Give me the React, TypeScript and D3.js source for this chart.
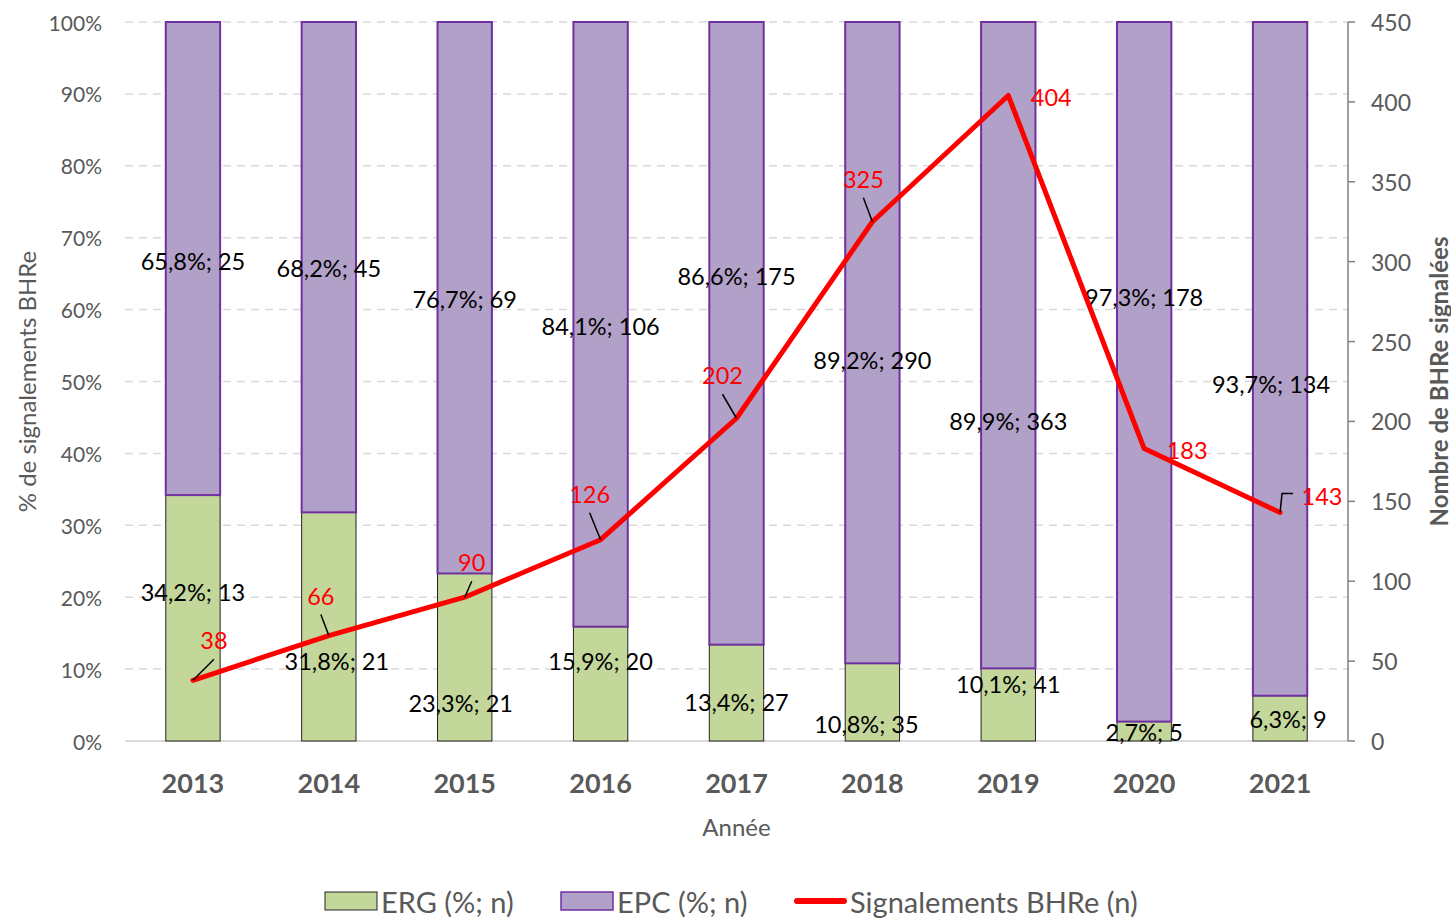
import React from 'react';
import * as d3 from 'd3';

const years = ['2013', '2014', '2015', '2016', '2017', '2018', '2019', '2020', '2021'];
const ergPct = [34.2, 31.8, 23.3, 15.9, 13.4, 10.8, 10.1, 2.7, 6.3];
const ergN = [13, 21, 21, 20, 27, 35, 41, 5, 9];
const epcPct = [65.8, 68.2, 76.7, 84.1, 86.6, 89.2, 89.9, 97.3, 93.7];
const epcN = [25, 45, 69, 106, 175, 290, 363, 178, 134];
const totalN = [38, 66, 90, 126, 202, 325, 404, 183, 143];
const pctTicks = [0, 10, 20, 30, 40, 50, 60, 70, 80, 90, 100];
const countTicks = [0, 50, 100, 150, 200, 250, 300, 350, 400, 450];

// label nudges (px) as placed in the original
const epcLabelShift = [[0, 2], [0, 1], [0, 1], [0, 2], [0, -57], [0, 17], [0, 76], [0, -75], [-9, 25]];
const ergLabelShift = [[0, -26], [8, 34], [-4, 46], [0, -23], [0, 9], [-6, 22], [0, -21], [0, 1], [8, 1]];
const lineLabelShift = [[21, -40], [-8, -40], [7, -35], [-11, -46], [-14, -43], [-9, -43], [43, 2], [43, 1], [42, -17]];
const lineLeader = ['diag', 'diag', 'diag', 'diag', 'diag', 'diag', 'none', 'none', 'elbow'];

const W = 1451;
const H = 922;
const m = { left: 125, right: 1348, top: 22, bottom: 741 };
const FONT = 'Lato, "Open Sans", sans-serif';
const GREY = '#595959';

const fmt = (v: number) => v.toFixed(1).replace('.', ',');

export default function App() {
  const x = d3.scaleBand<string>().domain(years).range([m.left, m.right]).paddingInner(0.6).paddingOuter(0.3);
  const yPct = d3.scaleLinear().domain([0, 100]).range([m.bottom, m.top]);
  const yN = d3.scaleLinear().domain([0, 450]).range([m.bottom, m.top]);
  const bw = x.bandwidth();
  const cx = (y: string) => (x(y) as number) + bw / 2;

  const line = d3.line<number>()
    .x((_, i) => cx(years[i]))
    .y((d) => yN(d));

  return (
    <svg width={W} height={H} style={{ position: 'absolute', left: 0, top: 0, background: '#fff' }} fontFamily={FONT}>
      {/* gridlines */}
      {pctTicks.filter((t) => t > 0).map((t) => (
        <line key={t} x1={m.left} x2={m.right} y1={yPct(t)} y2={yPct(t)} stroke="#d9d9d9" strokeWidth={1.5} strokeDasharray="8,6" />
      ))}
      <line x1={m.left} x2={m.right} y1={m.bottom} y2={m.bottom} stroke="#d9d9d9" strokeWidth={2} />

      {/* left ticks */}
      {pctTicks.map((t) => (
        <text key={t} x={102} y={yPct(t)} textAnchor="end" dominantBaseline="central" fontSize={21} fill={GREY}>{t}%</text>
      ))}

      {/* right axis */}
      <line x1={m.right} x2={m.right} y1={m.top} y2={m.bottom} stroke="#808080" strokeWidth={1.5} />
      {countTicks.map((t) => (
        <g key={t}>
          <line x1={m.right} x2={m.right + 7} y1={yN(t)} y2={yN(t)} stroke="#808080" strokeWidth={1.5} />
          <text x={1371} y={yN(t)} dominantBaseline="central" fontSize={23} fill={GREY}>{t}</text>
        </g>
      ))}

      {/* bars */}
      {years.map((yr, i) => (
        <g key={yr}>
          <rect x={x(yr)} y={yPct(ergPct[i])} width={bw} height={m.bottom - yPct(ergPct[i])} fill="#c4d79b" stroke="#222" strokeWidth={1} />
          <rect x={x(yr)} y={yPct(100)} width={bw} height={yPct(ergPct[i]) - yPct(100)} fill="#b1a0c7" stroke="#7030a0" strokeWidth={2} />
        </g>
      ))}

      {/* bar labels */}
      {years.map((yr, i) => {
        const ergMid = yPct(ergPct[i] / 2);
        const epcMid = yPct(ergPct[i] + epcPct[i] / 2);
        return (
          <g key={yr} fontSize={23.5} fill="#000" textAnchor="middle" dominantBaseline="central">
            <text x={cx(yr) + epcLabelShift[i][0]} y={epcMid + epcLabelShift[i][1]}>{fmt(epcPct[i])}%; {epcN[i]}</text>
            <text x={cx(yr) + ergLabelShift[i][0]} y={ergMid + ergLabelShift[i][1]}>{fmt(ergPct[i])}%; {ergN[i]}</text>
          </g>
        );
      })}

      {/* line */}
      <path d={line(totalN) || ''} fill="none" stroke="#ff0000" strokeWidth={5} strokeLinejoin="round" strokeLinecap="round" />

      {/* line labels + leaders */}
      {years.map((yr, i) => {
        const px = cx(yr);
        const py = yN(totalN[i]);
        const lx = px + lineLabelShift[i][0];
        const ly = py + lineLabelShift[i][1];
        let leader = null;
        if (lineLeader[i] === 'diag') {
          leader = <line x1={px} y1={py} x2={lx} y2={ly + 19} stroke="#000" strokeWidth={1.5} />;
        } else if (lineLeader[i] === 'elbow') {
          leader = <polyline points={`${px},${py} ${px + 2},${ly - 2} ${px + 13},${ly - 2}`} fill="none" stroke="#000" strokeWidth={1.5} />;
        }
        return (
          <g key={yr}>
            {leader}
            <text x={lx} y={ly} textAnchor="middle" dominantBaseline="central" fontSize={23.5} fill="#ff0000">{totalN[i]}</text>
          </g>
        );
      })}

      {/* x labels */}
      {years.map((yr) => (
        <text key={yr} x={cx(yr)} y={782} textAnchor="middle" dominantBaseline="central" fontSize={27} fontWeight="bold" fill={GREY}>{yr}</text>
      ))}
      <text x={(m.left + m.right) / 2} y={826} textAnchor="middle" dominantBaseline="central" fontSize={24} fill={GREY}>Année</text>

      {/* axis titles */}
      <text transform={`translate(26,${(m.top + m.bottom) / 2}) rotate(-90)`} textAnchor="middle" dominantBaseline="central" fontSize={24} fill={GREY}>% de signalements BHRe</text>
      <text transform={`translate(1438,${(m.top + m.bottom) / 2}) rotate(-90)`} textAnchor="middle" dominantBaseline="central" fontSize={24} fontWeight="bold" fill={GREY}>Nombre de BHRe signalées</text>

      {/* legend */}
      <g fontSize={29} fill={GREY} dominantBaseline="central">
        <rect x={325} y={892} width={52} height={18} fill="#c4d79b" stroke="#222" strokeWidth={1} />
        <text x={381} y={901}>ERG (%; n)</text>
        <rect x={561} y={892} width={52} height={18} fill="#b1a0c7" stroke="#7030a0" strokeWidth={1.5} />
        <text x={617} y={901}>EPC (%; n)</text>
        <line x1={797} x2={844} y1={901} y2={901} stroke="#ff0000" strokeWidth={6} strokeLinecap="round" />
        <text x={850} y={901}>Signalements BHRe (n)</text>
      </g>
    </svg>
  );
}
